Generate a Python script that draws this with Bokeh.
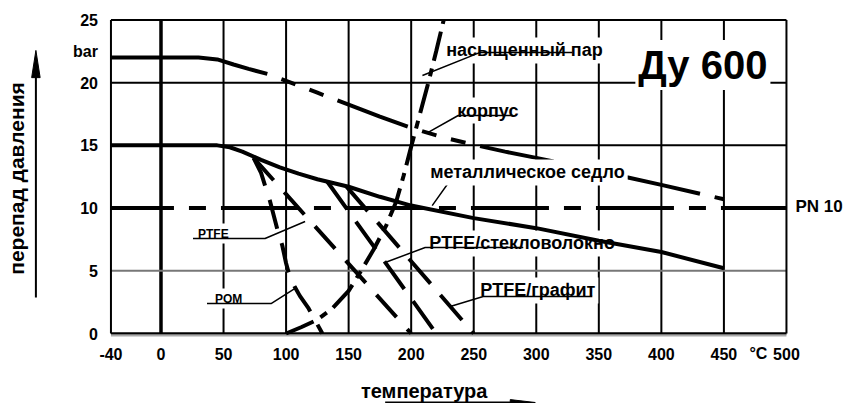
from bokeh.plotting import figure
from bokeh.models import Label
from bokeh.core.properties import value
from bokeh.embed import file_html
from bokeh.resources import INLINE
import math

# ---------------- data ----------------
x_ticks = [-40, 0, 50, 100, 150, 200, 250, 300, 350, 400, 450, 500]
y_ticks = [0, 5, 10, 15, 20, 25]
x_tick_labels = [str(t) for t in x_ticks]
y_tick_labels = [str(t) for t in y_ticks]

# корпус (body) – solid part, then dashed part
body_solid_x = [-40, 0, 30, 45, 58, 70, 85]
body_solid_y = [22, 22, 22, 21.85, 21.45, 21.1, 20.7]
body_dash_x = [85, 100, 125, 150, 175, 200, 225, 250, 275, 300, 350, 400, 450]
body_dash_y = [20.7, 20.15, 19.2, 18.25, 17.3, 16.4, 15.65, 15.05, 14.5, 14.0, 12.95, 11.85, 10.7]

# металлическое седло (metal seat)
seat_x = [-40, 45, 55, 65, 80, 95, 110, 125, 150, 175, 200, 250, 300, 350, 400, 450]
seat_y = [15, 15, 14.85, 14.5, 13.85, 13.25, 12.75, 12.3, 11.7, 10.9, 10.2, 9.2, 8.4, 7.4, 6.5, 5.2]

# насыщенный пар (saturated steam)
steam_x = [100, 112, 125, 137, 150, 160, 170, 180, 188, 194, 200, 207, 214, 220, 226]
steam_y = [0, 0.5, 1.1, 2.0, 3.4, 5.0, 6.7, 8.6, 10.5, 12.6, 14.9, 17.5, 20.1, 22.5, 25.0]

# seat materials
ptfe_x = [74, 200]
ptfe_y = [14.0, 0]
pom_x = [74, 80, 87, 93, 97, 100, 103, 107, 111, 118, 129]
pom_y = [14.0, 12.8, 10.6, 8.3, 7.0, 5.6, 4.5, 3.7, 3.0, 2.0, 0]
glass_x = [133, 220]
glass_y = [12.1, 0]
graphite_x = [148, 250]
graphite_y = [11.75, 0]

# PN 10 nominal pressure
pn_x = [-40, 500]
pn_y = [10, 10]

# grid
vgrid_x = [50, 100, 150, 200, 250, 300, 350, 400, 450]
hgrid_y = [15, 20]
hgrid_grey_y = [5]

FONT = "Liberation Sans"

# ---------------- figure ----------------
# The frame spans the whole canvas; the chart box is drawn inside it.
XMIN, XMAX = x_ticks[0], x_ticks[-1]
YMIN, YMAX = y_ticks[0], y_ticks[-1]
p = figure(width=845, height=403, x_range=(-128.3, 547.2), y_range=(-5.58, 26.55),
           output_backend="svg", toolbar_location=None,
           min_border_left=0, min_border_right=0, min_border_top=0, min_border_bottom=0)
p.grid.visible = False
p.axis.visible = False
p.outline_line_color = None

# grid lines and box
g1 = p.segment(x0=vgrid_x, y0=[YMIN] * len(vgrid_x), x1=vgrid_x, y1=[YMAX] * len(vgrid_x),
               line_color="black", line_width=2)
g2 = p.segment(x0=[0], y0=[YMIN], x1=[0], y1=[YMAX], line_color="black", line_width=3.5)
g3 = p.segment(x0=[XMIN] * len(hgrid_y), y0=hgrid_y, x1=[XMAX] * len(hgrid_y), y1=hgrid_y,
               line_color="black", line_width=2)
g4 = p.segment(x0=[XMIN], y0=hgrid_grey_y, x1=[XMAX], y1=hgrid_grey_y,
               line_color="#777777", line_width=2)
g5 = p.segment(x0=[XMIN, XMIN, XMAX], y0=[YMAX, YMIN, YMIN], x1=[XMAX, XMIN, XMAX],
               y1=[YMAX, YMAX, YMAX], line_color="black", line_width=2)
g6 = p.segment(x0=[XMIN], y0=[YMIN], x1=[XMAX], y1=[YMIN], line_color="black", line_width=2.5)
g7 = p.segment(x0=[XMIN], y0=[YMIN - 0.16], x1=[XMAX], y1=[YMIN - 0.16],
               line_color="#aaaaaa", line_width=2)
for g in (g1, g2, g3, g4, g5, g6, g7):
    g.level = "image"

# tick labels, through the data scales
p.text(x=x_ticks, y=[-1.6] * len(x_ticks), text=x_tick_labels, text_font=value(FONT),
       text_font_style="bold", text_font_size="16px", text_color="black",
       text_align="center", text_baseline="middle")
p.text(x=[-50.4] * len(y_ticks), y=y_ticks, text=y_tick_labels, text_font=value(FONT),
       text_font_style="bold", text_font_size="16px", text_color="black",
       text_align="right", text_baseline="middle")

# curves
LW = 4
p.line(pn_x, pn_y, line_color="black", line_width=LW, line_dash="78 15 17 15", line_dash_offset=15)
p.line(body_solid_x, body_solid_y, line_color="black", line_width=LW)
p.line(body_dash_x, body_dash_y, line_color="black", line_width=LW,
       line_dash="15 15 15 15 75 15", line_dash_offset=135)
p.line(seat_x, seat_y, line_color="black", line_width=LW)
p.line(steam_x, steam_y, line_color="black", line_width=LW, line_dash="30 8 8 8")
p.line(ptfe_x, ptfe_y, line_color="black", line_width=LW, line_dash="30 16")
p.line(pom_x, pom_y, line_color="black", line_width=LW, line_dash="30 15")
p.line(glass_x, glass_y, line_color="black", line_width=LW, line_dash="34 15")
p.line(graphite_x, graphite_y, line_color="black", line_width=LW, line_dash="33 15")

# leader lines (annotation geometry)
leader_xs = [[209.0, 255.2, 328.8],
             [213.6, 237.6, 281.6],
             [216.8, 232.8, 281.6],
             [179.2, 211.2, 289.6],
             [231.2, 257.6, 344.8],
             [115.2, 83.2, 25.6],
             [107.2, 88.0, 36.8]]
leader_ys = [[20.57, 22.41, 22.41],
             [16.03, 17.38, 17.38],
             [10.2, 12.44, 12.44],
             [5.66, 6.86, 6.86],
             [2.15, 2.95, 2.95],
             [8.93, 7.58, 7.58],
             [3.59, 2.39, 2.39]]
p.multi_line(leader_xs, leader_ys, line_color="black", line_width=1.5)

# axis arrows (annotation geometry)
p.line([-100, -100], [2.87, 20.6], line_color="black", line_width=2)
p.patch([-100, -103.4, -96.6], [22.57, 20.4, 20.4], fill_color="black", line_color="black")
p.line([179.2, 282], [-5.5, -5.5], line_color="black", line_width=2)
p.patch([299.2, 279.2, 279.2], [-5.5, -5.27, -5.75], fill_color="black", line_color="black")

# labels
def lab(x, y, text, size, align="left", baseline="alphabetic", angle=0.0, bg=True, level="underlay"):
    l = Label(x=x, y=y, text=text, text_font=FONT, text_font_style="bold",
              text_font_size=f"{size}px", text_color="black",
              text_align=align, text_baseline=baseline, angle=angle)
    if bg:
        l.background_fill_color = "white"
        l.padding = 3
        l.level = level
    p.add_layout(l)
    return l

lab(225.6, 22.57, "насыщенный пар", 18)
lab(234.4, 17.78, "корпус", 18)
lab(212.8, 12.84, "металлическое седло", 18, level="annotation")
lab(212.0, 7.18, "PTFE/стекловолокно", 18)
lab(252.8, 3.43, "PTFE/графит", 18)
lab(27.2, 7.97, "PTFE", 12)
lab(40.8, 2.79, "POM", 12)
lab(379.2, 21.4, "Ду 600", 40)

lab(-50.4, 22.5, "bar", 16, align="right", baseline="middle", bg=False)
lab(507.2, 10.1, "PN 10", 17, baseline="middle", bg=False)
lab(477.6, -1.6, "°C", 16, align="center", baseline="middle", bg=False)

lab(-115.2, 12.36, "перепад давления", 21, align="center", baseline="middle",
    angle=math.pi / 2, bg=False)
lab(210.4, -4.55, "температура", 20, align="center", baseline="middle", bg=False)

open("out.html", "w").write(file_html(p, INLINE))
